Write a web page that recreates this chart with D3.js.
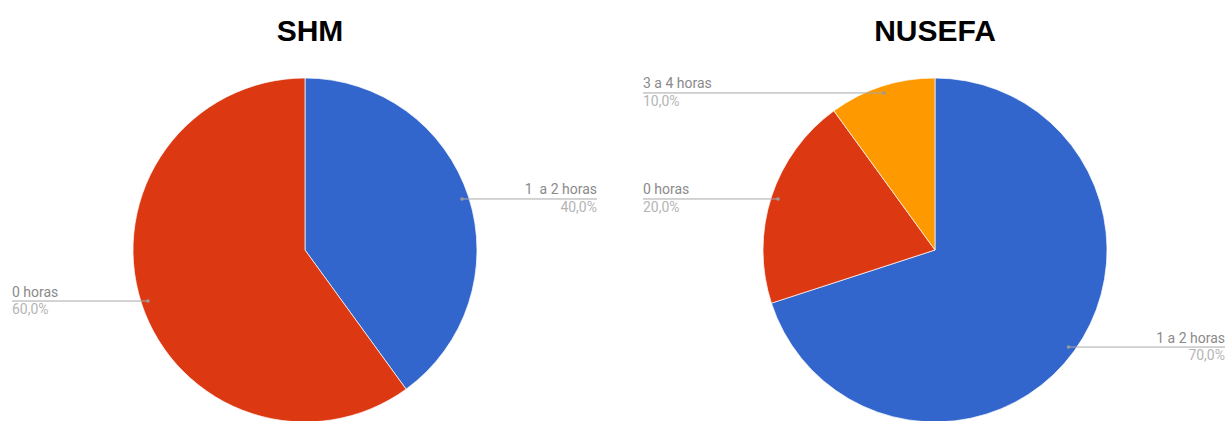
<!DOCTYPE html>
<html><head><meta charset="utf-8">
<script src="https://cdn.jsdelivr.net/npm/d3@7"></script>
<style>
body{margin:0;background:#fff;}
svg{display:block;}
</style></head>
<body>
<svg id="chart" width="1228" height="421"></svg>
<script>
const titles = ["SHM", "NUSEFA"];
const shmCategories = ["1  a 2 horas", "0 horas"];
const shmValues = [40, 60];
const shmColors = ["#3366cc", "#dc3912"];
const nusefaCategories = ["1 a 2 horas", "0 horas", "3 a 4 horas"];
const nusefaValues = [70, 20, 10];
const nusefaColors = ["#3366cc", "#dc3912", "#ff9900"];

const svg = d3.select("#chart");
const charts = [
  {title: titles[0], cats: shmCategories, vals: shmValues, cols: shmColors, cx: 305, left: 12, right: 597, tx: 310},
  {title: titles[1], cats: nusefaCategories, vals: nusefaValues, cols: nusefaColors, cx: 935, left: 643, right: 1225, tx: 935}
];
const cy = 250, r = 172;

charts.forEach(c => {
  const g = svg.append("g");
  g.append("text").attr("x", c.tx).attr("y", 41).attr("text-anchor", "middle")
    .attr("font-family", "Liberation Sans, Arial, sans-serif").attr("font-weight", "bold")
    .attr("font-size", 30).attr("fill", "#000").text(c.title);

  const data = c.cats.map((k, i) => ({cat: k, val: c.vals[i], col: c.cols[i]}));
  const pie = d3.pie().value(d => d.val).sort(null);
  const arcs = pie(data);
  const total = d3.sum(c.vals);
  const arc = d3.arc().innerRadius(0).outerRadius(r);
  const pg = g.append("g").attr("transform", `translate(${c.cx},${cy})`);
  pg.selectAll("path").data(arcs).join("path")
    .attr("d", arc).attr("fill", d => d.data.col)
    .attr("stroke", "#fff").attr("stroke-width", 0.7);

  arcs.forEach(a => {
    const mid = (a.startAngle + a.endAngle) / 2;
    const px = c.cx + Math.sin(mid) * r * 0.96;
    const py = cy - Math.cos(mid) * r * 0.96;
    const rightSide = Math.sin(mid) > 0;
    const lx = rightSide ? c.right : c.left;
    g.append("line").attr("x1", px).attr("y1", py).attr("x2", lx).attr("y2", py)
      .attr("stroke", "#a8a8a8").attr("stroke-width", 1);
    g.append("circle").attr("cx", px).attr("cy", py).attr("r", 1.8).attr("fill", "#9a9a9a");
    const anchor = rightSide ? "end" : "start";
    g.append("text").attr("x", lx).attr("y", py - 4.5).attr("text-anchor", anchor)
      .attr("font-family", "Roboto, Arial, sans-serif").attr("font-size", 14)
      .attr("fill", "#8a8a8a").style("white-space", "pre").text(a.data.cat);
    g.append("text").attr("x", lx).attr("y", py + 13).attr("text-anchor", anchor)
      .attr("font-family", "Roboto, Arial, sans-serif").attr("font-size", 14)
      .attr("fill", "#b5b5b5").text((a.data.val / total * 100).toFixed(1).replace(".", ",") + "%");
  });
});
</script>
</body></html>
